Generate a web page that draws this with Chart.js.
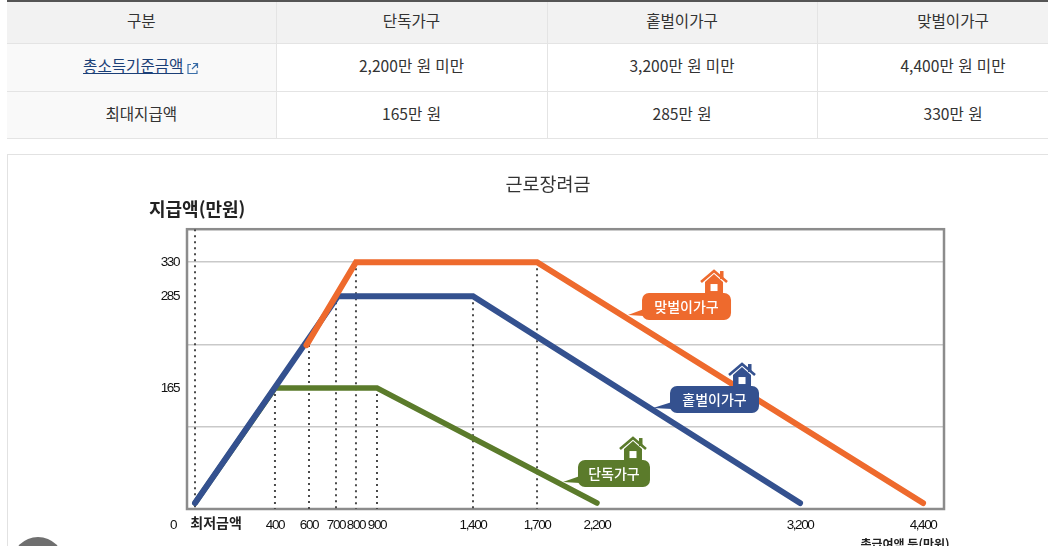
<!DOCTYPE html>
<html lang="ko">
<head>
<meta charset="utf-8">
<title>근로장려금</title>
<style>
html, body { margin: 0; padding: 0; background: #fff; overflow: hidden; width: 1048px; height: 546px; }
body { position: relative; font-family: "Noto Sans CJK KR", sans-serif; color: #333; }
table { position: absolute; left: 7px; top: 0; width: 1082px; height: 139px; border-collapse: collapse; table-layout: fixed; border-top: 2px solid #555; font-size: 15.6px; }
td, th { font-weight: 400; text-align: center; border: 1px solid #e4e4e4; border-top: 0; padding: 0 0 4px 0; box-sizing: border-box; }
td:first-child, th:first-child { border-left: 0; }
th { background: #f2f2f2; height: 42px; }
td { height: 48px; }
tr:last-child td { height: 47px; }
td:first-child { background: #f9f9f9; }
a { color: #1b3f77; text-decoration: underline; }
a svg { vertical-align: -3px; margin-left: 3px; }
#box { position: absolute; left: 7px; top: 154px; width: 1060px; height: 420px; border: 1px solid #e2e2e2; box-sizing: border-box; }
#dot { position: absolute; left: 12px; top: 537px; width: 52px; height: 52px; border-radius: 50%; background: #6f6f6f; }
#wrap { position: absolute; left: 48px; top: 155px; width: 1000px; height: 391px; }
</style>
</head>
<body>
<table>
  <colgroup><col style="width:269px"><col style="width:271px"><col style="width:270px"><col style="width:272px"></colgroup>
  <tr><th>구분</th><th>단독가구</th><th>홑벌이가구</th><th>맞벌이가구</th></tr>
  <tr><td><a href="#">총소득기준금액</a><a><svg width="13" height="13" viewBox="0 0 13 13" fill="none" stroke="#3a6ea8" stroke-width="1.2"><path d="M5 2.5H2v9h9v-3M7 1.5h4.5V6M11.5 1.5 6 7"/></svg></a></td><td>2,200만 원 미만</td><td>3,200만 원 미만</td><td>4,400만 원 미만</td></tr>
  <tr><td>최대지급액</td><td>165만 원</td><td>285만 원</td><td>330만 원</td></tr>
</table>
<div id="box"></div>
<div id="wrap"><canvas id="c" width="1000" height="391"></canvas></div>
<div id="dot"></div>
<script src="https://cdn.jsdelivr.net/npm/chart.js@4"></script>
<script>
var chartTitle = '근로장려금';
var yTitle = '지급액(만원)';
var xTitle = '총급여액 등(만원)';
var minLabel = '최저금액';

// income (만원), x axis ticks
var xTicks = [0, 100, 400, 600, 700, 800, 900, 1400, 1700, 2200, 3200, 4400];
var xTickLabels = ['0', '', '400', '600', '700', '800', '900', '1,400', '1,700', '2,200', '3,200', '4,400'];
// the printed axis is not to scale, where each income sits along it (0..1)
var xStops = [-0.0185, 0.0106, 0.1162, 0.1612, 0.1968, 0.2232, 0.2510, 0.3778, 0.4624, 0.5416, 0.8098, 0.9723];
var xMax = 4620;

var yTicks = [0, 110, 165, 220, 285, 330];
var yTickLabels = ['', '', '165', '', '285', '330'];
var yGrid = [110, 220, 330];
var yStops = [0, 0.2929, 0.4321, 0.5857, 0.7607, 0.8821];
var yMax = 373;

// series
var singleIncome = [100, 400, 900, 2200];
var singlePay = [8, 165, 165, 8];
var oneIncome = [100, 710, 1400, 3200];
var onePay = [8, 285, 285, 8];
var twoIncome = [585, 800, 1700, 4400];
var twoPay = [220, 330, 330, 8];

// dotted drop lines
var dropIncome = [100, 400, 600, 700, 800, 900, 1400, 1700];
var dropPay = [373, 165, 220, 285, 330, 165, 285, 330];

var seriesNames = ['단독가구', '홑벌이가구', '맞벌이가구'];
var seriesColors = ['#5b7b2b', '#34518f', '#ee6a2d'];

function toPoints(xs, ys) {
  return xs.map(function (x, i) { return { x: x, y: ys[i] }; });
}

class StopScale extends Chart.LinearScale {
  getPixelForValue(value) {
    var o = this.options, vals = o.stopValues, stops = o.stops;
    var n = vals.length;
    var i;
    for (i = 0; i < n - 1; i++) {
      if (value <= vals[i + 1]) {
        return this.getPixelForDecimal(stops[i] + (value - vals[i]) / (vals[i + 1] - vals[i]) * (stops[i + 1] - stops[i]));
      }
    }
    return this.getPixelForDecimal(stops[n - 1] + (value - vals[n - 1]) / (this.max - vals[n - 1]) * (1 - stops[n - 1]));
  }
  // no narrow face is installed, so tighten the digits
  drawLabels(area) {
    this.ctx.save();
    this.ctx.letterSpacing = '-1.4px';
    super.drawLabels(area);
    this.ctx.restore();
  }
}
StopScale.id = 'stops';
StopScale.defaults = Chart.LinearScale.defaults;
Chart.register(StopScale);

function roundRect(ctx, x, y, w, h, r) {
  ctx.beginPath();
  ctx.roundRect(x, y, w, h, r);
  ctx.fill();
}

function drawHouse(ctx, cx, base, color) {
  ctx.strokeStyle = color;
  ctx.fillStyle = color;
  ctx.lineWidth = 2.6;
  ctx.beginPath();
  ctx.moveTo(cx - 13, base - 13);
  ctx.lineTo(cx, base - 24);
  ctx.lineTo(cx + 13, base - 13);
  ctx.stroke();
  ctx.fillRect(cx + 6, base - 24, 3.5, 8);
  ctx.beginPath();
  ctx.moveTo(cx - 9, base);
  ctx.lineTo(cx - 9, base - 13);
  ctx.lineTo(cx, base - 21);
  ctx.lineTo(cx + 9, base - 13);
  ctx.lineTo(cx + 9, base);
  ctx.closePath();
  ctx.fill();
  ctx.fillStyle = '#fff';
  ctx.fillRect(cx - 3.5, base - 11, 7, 7);
}

// label boxes sit relative to where each series ends
var labelOffsets = [
  { dx: -19, dy: -43, w: 72, tail: 15 },
  { dx: -130, dy: -117, w: 89, tail: 17 },
  { dx: -281, dy: -210, w: 89, tail: 14 }
];

var extras = {
  id: 'extras',
  beforeDatasetsDraw: function (chart) {
    var a = chart.chartArea, ctx = chart.ctx;
    ctx.save();
    ctx.strokeStyle = '#8c8c8c';
    ctx.lineWidth = 2.5;
    ctx.strokeRect(a.left, a.top, a.right - a.left, a.bottom - a.top);
    ctx.restore();
  },
  afterDatasetsDraw: function (chart) {
    var ctx = chart.ctx, sx = chart.scales.x, sy = chart.scales.y;
    var ends = [[singleIncome, singlePay], [oneIncome, onePay], [twoIncome, twoPay]];
    ctx.save();
    ends.forEach(function (e, i) {
      var o = labelOffsets[i];
      var ex = sx.getPixelForValue(e[0][e[0].length - 1]);
      var ey = sy.getPixelForValue(e[1][e[1].length - 1]);
      var bx = ex + o.dx, by = ey + o.dy, color = seriesColors[i];
      drawHouse(ctx, bx + o.w - 17, by + 2, color);
      ctx.fillStyle = color;
      ctx.beginPath();
      ctx.moveTo(bx + 2, by + 16);
      ctx.lineTo(bx - o.tail, by + 22);
      ctx.lineTo(bx + 2, by + 23);
      ctx.closePath();
      ctx.fill();
      roundRect(ctx, bx, by, o.w, 27, 7);
      ctx.fillStyle = '#fff';
      ctx.font = '500 14px "Noto Sans CJK KR"';
      ctx.textAlign = 'center';
      ctx.textBaseline = 'middle';
      ctx.fillText(seriesNames[i], bx + o.w / 2, by + 13.5);
    });

    ctx.fillStyle = '#222';
    ctx.textBaseline = 'middle';
    ctx.font = '700 18px "Noto Sans CJK KR"';
    ctx.textAlign = 'left';
    ctx.fillText(yTitle, chart.chartArea.left - 38, 54);
    ctx.font = '700 14px "Noto Sans CJK KR"';
    ctx.textAlign = 'center';
    ctx.fillText(minLabel, sx.getPixelForValue(100) + 21, 368);
    ctx.font = '700 12px "Noto Sans CJK KR"';
    ctx.fillText(xTitle, chart.chartArea.right - 39, 389);
    ctx.restore();
  }
};

var dropSets = dropIncome.map(function (x, i) {
  return {
    data: [{ x: x, y: dropPay[i] }, { x: x, y: 0 }],
    borderColor: '#4a4a4a',
    borderWidth: 2,
    borderDash: [2, 4],
    pointRadius: 0,
    order: 5
  };
});

function lineSet(i, xs, ys, width) {
  return {
    label: seriesNames[i],
    data: toPoints(xs, ys),
    borderColor: seriesColors[i],
    borderWidth: width,
    borderCapStyle: 'round',
    borderJoinStyle: 'miter',
    pointRadius: 0,
    tension: 0,
    order: 3 - i
  };
}

new Chart(document.getElementById('c'), {
  type: 'line',
  data: {
    datasets: dropSets.concat([
      lineSet(0, singleIncome, singlePay, 5.5),
      lineSet(1, oneIncome, onePay, 6),
      lineSet(2, twoIncome, twoPay, 6)
    ])
  },
  options: {
    responsive: false,
    animation: false,
    devicePixelRatio: 1,
    layout: { padding: { left: 104, right: 104, top: 0, bottom: 0 } },
    plugins: {
      legend: { display: false },
      tooltip: { enabled: false },
      title: {
        display: true,
        text: chartTitle,
        color: '#333',
        font: { family: '"Noto Sans CJK KR"', size: 18.5, weight: '400' },
        padding: { top: 18, bottom: 34 }
      }
    },
    scales: {
      x: {
        type: 'stops',
        stopValues: xTicks,
        stops: xStops,
        min: 0,
        max: xMax,
        afterBuildTicks: function (s) { s.ticks = xTicks.map(function (v) { return { value: v }; }); },
        afterFit: function (s) { s.height = 37; s.paddingLeft = 0; s.paddingRight = 0; },
        grid: { display: false },
        border: { display: false },
        ticks: {
          autoSkip: false,
          maxRotation: 0,
          padding: 0,
          color: '#111',
          font: { family: '"Liberation Sans"', size: 13.5 },
          callback: function (v) { return xTickLabels[xTicks.indexOf(v)]; }
        }
      },
      y: {
        type: 'stops',
        stopValues: yTicks,
        stops: yStops,
        min: 0,
        max: yMax,
        afterBuildTicks: function (s) { s.ticks = yTicks.map(function (v) { return { value: v }; }); },
        afterFit: function (s) { s.width = 35; s.paddingTop = 0; s.paddingBottom = 0; },
        grid: {
          drawTicks: false,
          lineWidth: 1.5,
          color: function (c) { return yGrid.indexOf(c.tick.value) >= 0 ? '#c9c9c9' : 'rgba(0,0,0,0)'; }
        },
        border: { display: false },
        ticks: {
          padding: 8,
          color: '#111',
          font: { family: '"Liberation Sans"', size: 13.5 },
          callback: function (v) { return yTickLabels[yTicks.indexOf(v)]; }
        }
      }
    }
  },
  plugins: [extras]
});
</script>
</body>
</html>
